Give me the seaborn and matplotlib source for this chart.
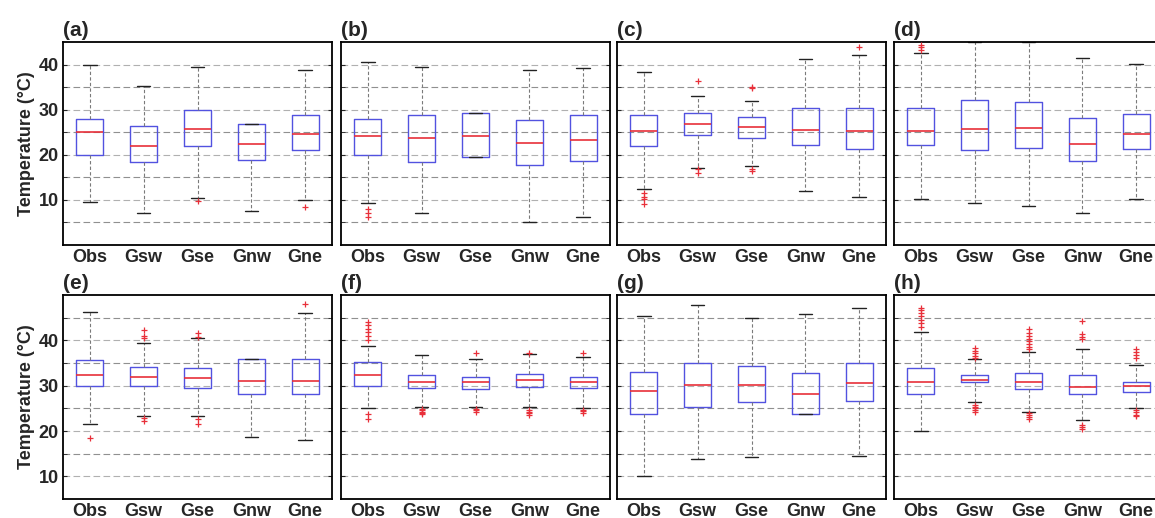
import numpy as np
import pandas as pd
import matplotlib
matplotlib.use("Agg")
import matplotlib.pyplot as plt
import seaborn as sns

groups = ["Obs", "Gsw", "Gse", "Gnw", "Gne"]
panel_labels = ["(a)", "(b)", "(c)", "(d)", "(e)", "(f)", "(g)", "(h)"]

# per panel, per group: lower whisker end, Q1, median, Q3, upper whisker end
whisker_lo = [
    [9.5, 7.0, 10.5, 7.6, 10.0],
    [9.2, 7.0, 19.6, 5.0, 6.3],
    [12.4, 17.1, 17.6, 12.0, 10.7],
    [10.2, 9.2, 8.7, 7.0, 10.2],
    [21.5, 23.3, 23.2, 18.6, 18.0],
    [25.0, 25.4, 25.4, 25.3, 25.0],
    [10.1, 13.8, 14.3, 23.7, 14.5],
    [20.1, 26.5, 24.3, 22.5, 25.0],
]
quart_1 = [
    [20.0, 18.3, 22.0, 18.8, 21.0],
    [20.0, 18.3, 19.6, 17.7, 18.6],
    [22.0, 24.4, 23.7, 22.2, 21.3],
    [22.2, 21.0, 21.6, 18.6, 21.3],
    [29.9, 29.9, 29.5, 28.1, 28.1],
    [29.9, 29.4, 29.2, 29.8, 29.4],
    [23.8, 25.4, 26.3, 23.7, 26.6],
    [28.1, 30.9, 29.2, 28.1, 28.7],
]
medians = [
    [25.0, 22.0, 25.8, 22.5, 24.7],
    [24.2, 23.8, 24.2, 22.7, 23.3],
    [25.3, 26.8, 26.1, 25.6, 25.3],
    [25.3, 25.7, 25.9, 22.4, 24.6],
    [32.4, 31.9, 31.7, 31.0, 31.1],
    [32.4, 30.9, 30.7, 31.3, 30.9],
    [28.8, 30.2, 30.2, 28.1, 30.5],
    [30.9, 31.3, 30.9, 29.8, 29.9],
]
quart_3 = [
    [28.0, 26.4, 30.0, 26.8, 28.8],
    [28.0, 28.8, 29.2, 27.7, 28.8],
    [28.8, 29.2, 28.3, 30.3, 30.3],
    [30.3, 32.2, 31.8, 28.2, 29.0],
    [35.7, 34.2, 34.0, 35.9, 35.8],
    [35.2, 32.4, 31.9, 32.6, 32.0],
    [33.1, 35.0, 34.4, 32.9, 35.0],
    [33.9, 32.4, 32.7, 32.4, 30.9],
]
whisker_hi = [
    [40.0, 35.3, 39.5, 26.8, 38.8],
    [40.6, 39.5, 29.2, 38.9, 39.2],
    [38.4, 33.0, 32.0, 41.2, 42.1],
    [42.5, 45.0, 45.0, 41.4, 40.1],
    [46.3, 39.5, 40.6, 35.9, 46.0],
    [38.8, 36.8, 35.8, 36.9, 36.4],
    [45.4, 47.7, 44.9, 45.8, 47.1],
    [41.9, 35.8, 37.5, 38.0, 34.6],
]
outliers = [
    [[], [], [9.8], [], [8.5]],
    [[7.9, 7.0, 6.1], [], [], [], []],
    [[11.5, 10.7, 10.1, 9.1], [36.4, 16.9, 16.0], [35.1, 34.8, 16.9, 16.5], [], [43.8]],
    [[43.3, 43.8, 44.3], [], [], [], []],
    [[18.5], [40.5, 41.0, 42.2, 22.8, 22.1], [40.8, 41.7, 22.6, 21.6], [], [48.0]],
    [[40.1, 41.0, 41.8, 42.6, 43.4, 44.1, 23.7, 22.6], [24.9, 24.6, 24.3, 24.0, 23.7],
     [24.9, 24.6, 24.2, 37.3], [24.6, 24.2, 23.9, 23.5, 37.3], [24.7, 24.4, 24.0, 37.3]],
    [[], [], [], [], []],
    [[43.0, 43.8, 44.5, 45.3, 46.0, 46.6, 47.1],
     [36.1, 36.6, 37.1, 37.6, 38.2, 25.8, 25.4, 25.0, 24.6, 24.3],
     [38.0, 38.6, 39.2, 39.8, 40.4, 41.0, 41.7, 42.4, 23.9, 23.5, 23.1, 22.6],
     [40.2, 40.8, 41.3, 44.2, 21.3, 20.9, 20.4],
     [36.0, 36.7, 37.5, 38.0, 24.6, 24.1, 23.6, 23.2]],
]

row_ylim = [(0, 45), (5, 50)]
row_minor = [[5, 15, 25, 35], [15, 25, 35, 45]]
major_ticks = [10, 20, 30, 40]

sns.set_style("ticks")
plt.rcParams["font.family"] = ["Liberation Sans", "DejaVu Sans"]
plt.rcParams["font.weight"] = "bold"

BLUE = "#5252e0"
RED = "#e8303a"
WGREY = "#7a7a7a"

W, H = 1155, 518
fig = plt.figure(figsize=(W / 100, H / 100), dpi=100)
col_left = [63, 341, 617, 894]
ax_w = 269
rows = [(42, 245), (295, 499)]

for p in range(8):
    r, c = divmod(p, 4)
    top, bot = rows[r]
    ax = fig.add_axes([col_left[c] / W, (H - bot) / H, ax_w / W, (bot - top) / H])

    recs = []
    for g, name in enumerate(groups):
        for v in (whisker_lo[p][g], quart_1[p][g], medians[p][g], quart_3[p][g], whisker_hi[p][g]):
            recs.append((name, v))
    df = pd.DataFrame(recs, columns=["group", "value"])

    sns.boxplot(data=df, x="group", y="value", order=groups, ax=ax,
                whis=(0, 100), width=0.5, fill=False, showfliers=False,
                boxprops=dict(color=BLUE, linewidth=1.0),
                medianprops=dict(color=RED, linewidth=1.2),
                whiskerprops=dict(color=WGREY, linewidth=0.8, linestyle=(0, (3, 2))),
                capprops=dict(color="#222222", linewidth=1.0))

    fl = [(name, v) for g, name in enumerate(groups) for v in outliers[p][g]]
    if fl:
        fdf = pd.DataFrame(fl, columns=["group", "value"])
        sns.stripplot(data=fdf, x="group", y="value", order=groups, ax=ax,
                      jitter=False, marker="+", color=RED, size=4, linewidth=0.9)

    ax.set_xlim(-0.5, 4.5)
    ax.set_ylim(*row_ylim[r])
    ax.set_yticks(major_ticks)
    ax.set_yticks(row_minor[r], minor=True)
    ax.grid(axis="y", which="major", color="#b0b0b0", linestyle=(0, (6, 3)), linewidth=0.8)
    ax.grid(axis="y", which="minor", color="#909090", linestyle=(0, (6, 3)), linewidth=0.8)
    ax.set_axisbelow(True)
    ax.set_xlabel("")
    ax.set_ylabel("")
    ax.tick_params(axis="x", length=0, pad=3, labelsize=13)
    ax.tick_params(axis="y", which="both", direction="in", length=3, left=True, right=True,
                   labelsize=13, pad=3)
    for lab in ax.get_xticklabels() + ax.get_yticklabels():
        lab.set_fontweight("bold")
    if c == 0:
        ax.set_ylabel("Temperature (°C)", fontsize=13, fontweight="bold", labelpad=3)
    else:
        ax.set_yticklabels([])
    for s in ax.spines.values():
        s.set_visible(True)
        s.set_color("black")
        s.set_linewidth(1.3)
    ax.text(0.0, 1.012, panel_labels[p], transform=ax.transAxes, ha="left", va="bottom",
            fontsize=15, fontweight="bold")

fig.savefig("out.png", dpi=100)
